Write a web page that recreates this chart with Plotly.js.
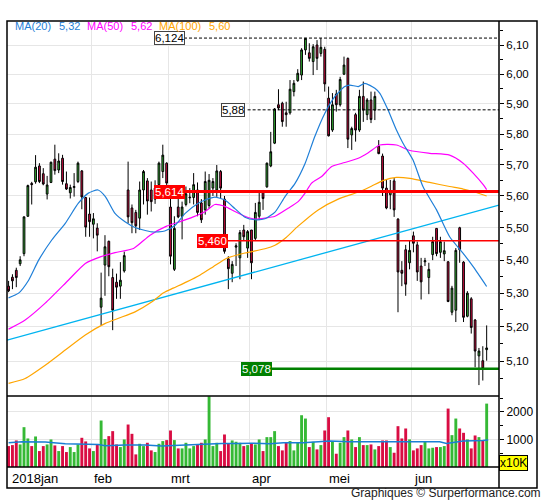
<!DOCTYPE html>
<html>
<head>
<meta charset="utf-8">
<script src="https://cdn.plot.ly/plotly-3.0.1.min.js"></script>
<style>html,body{margin:0;padding:0;background:#fff}#chart{width:545px;height:500px}</style>
</head>
<body>
<div id="chart"></div>
<script>
// ---- Data ----
const openP = [5.321,5.348,5.369,5.389,5.420,5.536,5.640,5.645,5.696,5.671,5.606,5.643,5.718,5.683,5.721,5.639,5.610,5.627,5.646,5.680,
5.595,5.543,5.511,5.499,5.258,5.385,5.458,5.347,5.333,5.321,5.367,5.619,5.562,5.548,5.530,5.619,5.648,5.619,5.590,5.636,
5.678,5.705,5.565,5.372,5.565,5.536,5.573,5.594,5.595,5.619,5.578,5.556,5.570,5.625,5.619,5.678,5.590,5.404,5.360,5.440,
5.407,5.493,5.437,5.493,5.467,5.536,5.616,5.629,5.696,5.770,5.897,5.902,5.870,5.870,5.941,5.978,5.997,6.083,6.073,6.043,
6.100,6.071,6.085,5.919,5.813,5.933,5.897,6.000,6.054,5.797,5.864,5.813,5.925,5.864,5.913,5.879,5.760,5.728,5.625,5.604,
5.648,5.527,5.369,5.432,5.392,5.475,5.447,5.382,5.395,5.347,5.417,5.498,5.424,5.419,5.395,5.243,5.249,5.500,5.394,5.231,
5.283,5.220,5.115,5.101,5.133];
const highP = [5.337,5.357,5.377,5.412,5.536,5.636,5.645,5.731,5.705,5.689,5.664,5.710,5.765,5.737,5.732,5.678,5.636,5.673,5.710,5.683,
5.597,5.595,5.546,5.514,5.362,5.477,5.460,5.374,5.359,5.394,5.426,5.710,5.573,5.556,5.646,5.683,5.657,5.646,5.650,5.710,
5.765,5.708,5.604,5.536,5.610,5.582,5.630,5.625,5.673,5.643,5.590,5.678,5.670,5.657,5.699,5.683,5.600,5.412,5.397,5.452,
5.493,5.509,5.493,5.493,5.578,5.610,5.619,5.707,5.807,5.886,5.949,5.907,5.907,5.980,5.980,6.017,6.089,6.124,6.106,6.103,
6.117,6.124,6.094,5.958,5.936,5.947,5.991,6.060,6.057,5.824,5.870,5.947,5.975,5.919,5.941,5.941,5.780,5.736,5.651,5.651,
5.657,5.530,5.397,5.447,5.462,5.488,5.457,5.407,5.407,5.392,5.472,5.498,5.472,5.457,5.397,5.322,5.437,5.503,5.397,5.306,
5.288,5.223,5.138,5.143,5.204];
const lowP = [5.303,5.312,5.318,5.382,5.412,5.534,5.573,5.639,5.641,5.634,5.589,5.641,5.668,5.673,5.636,5.619,5.592,5.598,5.641,5.558,
5.472,5.472,5.467,5.427,5.204,5.292,5.351,5.190,5.283,5.283,5.362,5.514,5.483,5.483,5.493,5.573,5.541,5.551,5.575,5.630,
5.657,5.630,5.387,5.367,5.530,5.464,5.567,5.577,5.573,5.536,5.515,5.541,5.560,5.600,5.597,5.592,5.420,5.312,5.333,5.382,
5.342,5.462,5.407,5.342,5.462,5.524,5.556,5.626,5.692,5.767,5.879,5.824,5.824,5.864,5.925,5.974,5.980,6.066,6.043,5.997,
6.014,6.060,5.941,5.792,5.807,5.874,5.891,5.997,5.754,5.748,5.775,5.807,5.840,5.846,5.836,5.846,5.734,5.600,5.558,5.558,
5.534,5.243,5.321,5.292,5.372,5.424,5.337,5.281,5.382,5.297,5.400,5.412,5.407,5.397,5.273,5.234,5.214,5.392,5.214,5.228,
5.180,5.082,5.031,5.044,5.101];
const closeP = [5.307,5.337,5.347,5.401,5.534,5.633,5.636,5.692,5.646,5.638,5.635,5.708,5.681,5.712,5.646,5.622,5.627,5.630,5.705,5.597,
5.502,5.519,5.528,5.477,5.285,5.441,5.380,5.249,5.318,5.339,5.414,5.534,5.516,5.506,5.619,5.678,5.584,5.582,5.625,5.705,
5.731,5.641,5.412,5.498,5.534,5.565,5.607,5.596,5.636,5.548,5.525,5.646,5.650,5.646,5.680,5.625,5.427,5.374,5.387,5.444,
5.485,5.472,5.488,5.392,5.548,5.580,5.592,5.705,5.742,5.883,5.886,5.841,5.864,5.949,5.969,6.003,6.083,6.123,6.054,6.094,
6.054,6.092,5.967,5.794,5.897,5.897,5.982,6.031,5.783,5.818,5.813,5.925,5.879,5.913,5.848,5.925,5.736,5.625,5.562,5.614,
5.556,5.364,5.360,5.327,5.430,5.452,5.364,5.334,5.398,5.372,5.457,5.420,5.457,5.429,5.275,5.315,5.430,5.432,5.228,5.300,
5.198,5.129,5.129,5.078,5.138];
// volume in units of 10K
const volume = [758,794,963,818,1444,1035,758,1107,578,758,818,999,782,578,758,542,722,542,818,1059,
927,674,578,818,1685,1011,1119,1300,818,722,999,1540,1203,457,842,758,878,602,542,842,
939,975,1324,975,674,674,878,674,758,818,878,999,2563,758,878,578,1179,842,963,915,
878,758,794,860,818,999,578,1083,1083,1300,758,602,878,939,602,878,1877,1757,722,915,
638,794,1324,1805,915,481,878,1083,1324,999,722,1083,794,794,818,638,758,963,963,722,
517,1480,1035,1396,999,602,674,794,939,674,698,722,722,758,2118,1155,1757,1396,1239,999,
674,1143,1083,963,2298];

// moving averages: [trading-day index, value]
const ma20Pts = [[0,5.286],[2.6,5.300],[5.2,5.339],[7.8,5.400],[11.2,5.462],[14.7,5.514],[18.1,5.577],[20.7,5.609],[23.2,5.619],[25.1,5.598],
[27.6,5.545],[30.2,5.519],[32.8,5.501],[37.2,5.487],[40.5,5.490],[43.2,5.508],[45.8,5.545],[49.2,5.577],[51,5.587],[53.5,5.596],[56.1,5.587],
[58.7,5.560],[61.3,5.533],[63.9,5.525],[66.5,5.528],[69.1,5.549],[71.7,5.598],[74.3,5.640],[76.9,5.704],[79.4,5.791],[82,5.868],
[84.6,5.924],[87.2,5.958],[88.5,5.963],[90.7,5.958],[92.4,5.969],[95,5.952],[96.3,5.935],[98.4,5.880],[100.6,5.813],[102.3,5.770],
[104.9,5.715],[107.5,5.629],[111,5.556],[114.4,5.472],[117.9,5.421],[120.5,5.380],[124,5.32]];
const ma50Pts = [[0,5.193],[4.3,5.220],[9.5,5.270],[15.5,5.339],[19.9,5.390],[23.8,5.410],[27.6,5.423],[32.4,5.436],[36.7,5.477],[41,5.505],
[44.5,5.519],[47.9,5.534],[51,5.551],[53.5,5.573],[56.1,5.567],[58.7,5.551],[61.3,5.536],[63.9,5.527],[66.5,5.530],[69.1,5.536],
[72.5,5.561],[75.1,5.582],[76.9,5.609],[78.6,5.641],[81.2,5.662],[83.8,5.694],[87.2,5.707],[90.7,5.721],[93.3,5.739],[96.3,5.764],
[100.6,5.764],[104.1,5.746],[109.2,5.737],[114.4,5.731],[117.9,5.705],[120.5,5.673],[123.1,5.636],[124,5.62]];
const ma100Pts = [[0,5.036],[4.3,5.050],[9.5,5.088],[14.7,5.132],[19.9,5.176],[25.1,5.210],[28.5,5.225],[32.8,5.244],[37.2,5.274],[40.2,5.301],
[42.7,5.315],[46.2,5.334],[49.7,5.355],[53.1,5.380],[56.6,5.406],[61.3,5.422],[66.5,5.435],[69.1,5.446],[72,5.470],[75.1,5.505],
[80.3,5.556],[85.5,5.590],[91.1,5.614],[94.1,5.631],[97.1,5.649],[100.6,5.659],[104.1,5.656],[109.2,5.643],[114.4,5.630],[117.9,5.622],
[121.3,5.611],[124,5.60]];
const volMaPts = [[0,878],[3.5,915],[9.5,903],[14.7,842],[23.3,818],[25.1,770],[30.2,794],[35.4,794],[39.7,765],[44,794],[47.5,794],
[50.9,818],[55.3,854],[59.6,854],[63,865],[67.8,842],[71.3,878],[76.4,878],[80,900],[83.3,939],[88.5,915],[97.2,915],[105.8,915],
[111.8,915],[113.6,850],[117.9,939],[123,963],[124.4,975]];
const trendPts = [[-0.41,5.161],[127.2,5.571]];

// price levels
const levelValues = [6.124, 5.88, 5.614, 5.460, 5.078];
const levelLabels = ['6,124', '5,88', '5,614', '5,460', '5,078'];
const levelLabelIdx = [41.7, 58.2, 41.8, 52.8, 64.4];

// axis ticks
const priceTicks = [5.10,5.20,5.30,5.40,5.50,5.60,5.70,5.80,5.90,6.00,6.10];
const priceMinorTicks = [5.05,5.15,5.25,5.35,5.45,5.55,5.65,5.75,5.85,5.95,6.05,6.15];
const volTicks = [1000, 2000];
const volMinorTicks = [500, 1500, 2500];
const monthLabels = ['2018jan','feb','mrt','apr','mei','jun'];
const monthFirstIdx = [0, 22, 42, 63, 83, 105];

// ---- styles ----
const GREEN = '#35b935', RED = '#d90d43';
const FONT = 'Liberation Sans, Arial, sans-serif';
const XMIN = -0.41, XMAX = 127.2;
const fmt = v => v.toFixed(2).replace('.', ',');
const idx = openP.map((_, i) => i);
const volColors = idx.map(i => closeP[i] >= openP[i] ? GREEN : RED);
const gridX = monthFirstIdx.slice(1).map(v => v - 0.6);

const traces = [
  {type:'candlestick', x: idx, open: openP, high: highP, low: lowP, close: closeP,
   xaxis:'x', yaxis:'y', whiskerwidth: 0,
   increasing:{line:{color:'#000', width:1}, fillcolor: GREEN},
   decreasing:{line:{color:'#000', width:1}, fillcolor: RED},
   hoverinfo:'skip', showlegend:false},
  {type:'scatter', mode:'lines', x: trendPts.map(p=>p[0]), y: trendPts.map(p=>p[1]),
   line:{color:'#00b4f0', width:1.3}, xaxis:'x', yaxis:'y', hoverinfo:'skip', showlegend:false},
  {type:'scatter', mode:'lines', x: ma100Pts.map(p=>p[0]), y: ma100Pts.map(p=>p[1]),
   line:{color:'#ffa500', width:1.2, shape:'spline', smoothing:0.6}, xaxis:'x', yaxis:'y', hoverinfo:'skip', showlegend:false},
  {type:'scatter', mode:'lines', x: ma50Pts.map(p=>p[0]), y: ma50Pts.map(p=>p[1]),
   line:{color:'#ff00ff', width:1.2, shape:'spline', smoothing:0.6}, xaxis:'x', yaxis:'y', hoverinfo:'skip', showlegend:false},
  {type:'scatter', mode:'lines', x: ma20Pts.map(p=>p[0]), y: ma20Pts.map(p=>p[1]),
   line:{color:'#1f7fd8', width:1.2, shape:'spline', smoothing:0.6}, xaxis:'x', yaxis:'y', hoverinfo:'skip', showlegend:false},
  {type:'bar', x: idx, y: volume, width: 0.75, marker:{color: volColors, line:{width:0}},
   xaxis:'x2', yaxis:'y2', hoverinfo:'skip', showlegend:false},
  {type:'scatter', mode:'lines', x: volMaPts.map(p=>p[0]), y: volMaPts.map(p=>p[1]),
   line:{color:'#1a7fd4', width:1.5}, xaxis:'x2', yaxis:'y2', hoverinfo:'skip', showlegend:false}
];

// paper-coordinate helpers for the fixed frame (plot area: x 7..499, y 21..467 px)
const PW = 492, PH = 446, PL = 7, PB = 467;
const px = v => (v - PL) / PW;
const py = v => (PB - v) / PH;
const VOLTOP = py(396);

const shapes = [];
const annotations = [];

// level lines + labels
const levelStyle = [
  {color:'#000', width:1, dash:'3px,2px', bg:'#fff', border:'#444', font:'#000'},
  {color:'#000', width:1, dash:'3px,2px', bg:'#fff', border:'#444', font:'#000'},
  {color:'#ff0000', width:3, dash:'solid', bg:'#ff0000', border:'#ff0000', font:'#fff'},
  {color:'#ff0000', width:1.5, dash:'solid', bg:'#ff0000', border:'#ff0000', font:'#fff'},
  {color:'#008000', width:2.5, dash:'solid', bg:'#008000', border:'#008000', font:'#fff'}
];
levelValues.forEach((v, k) => {
  const s = levelStyle[k];
  shapes.push({type:'line', xref:'x', yref:'y', x0: levelLabelIdx[k] + 3.8, x1: XMAX, y0: v, y1: v,
    line:{color:s.color, width:s.width, dash:s.dash}, layer:'above'});
  annotations.push({xref:'x', yref:'y', x: levelLabelIdx[k], y: Math.log10(v), text: levelLabels[k],
    showarrow:false, font:{family:FONT, size:11.5, color:s.font}, bgcolor:s.bg, bordercolor:s.border,
    borderwidth:1, borderpad:0, xanchor:'center', yanchor:'middle'});
});

// frame and panel separators
shapes.push({type:'rect', xref:'paper', yref:'paper', x0:0, x1:px(537), y0:py(488), y1:1, line:{color:'#000', width:1.5}, layer:'above'});
shapes.push({type:'line', xref:'paper', yref:'paper', x0:1, x1:1, y0:py(488), y1:1, line:{color:'#000', width:1.5}, layer:'above'});
shapes.push({type:'line', xref:'paper', yref:'paper', x0:0, x1:1, y0:VOLTOP, y1:VOLTOP, line:{color:'#000', width:1.5}, layer:'above'});
shapes.push({type:'line', xref:'paper', yref:'paper', x0:0, x1:1, y0:0, y1:0, line:{color:'#000', width:1.5}, layer:'above'});

// legend texts
const legendItems = [
  ['MA(20)', '#1f7fd8', 13], [fmt(ma20Pts[ma20Pts.length-1][1]), '#1f7fd8', 57],
  ['MA(50)', '#ff00ff', 85], [fmt(ma50Pts[ma50Pts.length-1][1]), '#ff00ff', 129],
  ['MA(100)', '#ffa500', 157], [fmt(ma100Pts[ma100Pts.length-1][1]), '#ffa500', 207]
];
legendItems.forEach(([t, c, x]) => annotations.push({xref:'paper', yref:'paper', x: px(x), y: py(26.5),
  text: t, showarrow:false, xanchor:'left', yanchor:'middle', font:{family:FONT, size:11, color:c}}));

// month labels
monthLabels.forEach((m, k) => annotations.push({xref:'x', yref:'paper',
  x: Math.max(monthFirstIdx[k] - 0.6, XMIN), y: py(478), text: m, showarrow:false,
  xanchor:'left', yanchor:'middle', xshift: k === 0 ? 3 : 1, font:{family:FONT, size:13, color:'#000'}}));

// x10K box
annotations.push({xref:'paper', yref:'paper', x: px(513), y: py(463), text:'x10K', showarrow:false,
  xanchor:'center', yanchor:'middle', bgcolor:'#ffff00', bordercolor:'#000', borderwidth:1, borderpad:0,
  font:{family:FONT, size:12, color:'#000'}});
// attribution
annotations.push({xref:'paper', yref:'paper', x: px(543), y: py(493), text:'Graphiques © Surperformance.com',
  showarrow:false, xanchor:'right', yanchor:'middle', font:{family:FONT, size:12, color:'#222'}});

const xCommon = {range:[XMIN, XMAX], tickmode:'array', tickvals: gridX, showticklabels:false, ticks:'',
  showgrid:true, gridcolor:'#e6e6e6', gridwidth:1, zeroline:false, showline:false, fixedrange:true};

const layout = {
  width:545, height:500,
  margin:{l:PL, r:545-PL-PW, t:21, b:500-PB, pad:0},
  paper_bgcolor:'#fff', plot_bgcolor:'#fff',
  font:{family:FONT, size:11, color:'#000'},
  showlegend:false, hovermode:false, boxgap:0.35,
  xaxis: Object.assign({anchor:'y', rangeslider:{visible:false}}, xCommon),
  xaxis2: Object.assign({anchor:'y2', matches:'x'}, xCommon),
  yaxis: {type:'log', domain:[VOLTOP, 1], range:[Math.log10(5.0), Math.log10(6.1835)], side:'right', anchor:'x',
    tickmode:'array', tickvals: priceTicks, ticktext: priceTicks.map(fmt), ticks:'outside', ticklen:4,
    tickcolor:'#000', tickwidth:1, tickfont:{family:FONT, size:11.5, color:'#000'},
    minor:{tickmode:'array', tickvals: priceMinorTicks, ticks:'outside', ticklen:3, tickcolor:'#000', showgrid:false},
    showgrid:true, gridcolor:'#e6e6e6', zeroline:false, showline:false, fixedrange:true},
  yaxis2: {domain:[0, VOLTOP], range:[0, 2574], side:'right', anchor:'x2',
    tickmode:'array', tickvals: volTicks, ticktext: volTicks.map(String), ticks:'outside', ticklen:4,
    tickcolor:'#000', tickwidth:1, tickfont:{family:FONT, size:12, color:'#000'},
    minor:{tickmode:'array', tickvals: volMinorTicks, ticks:'outside', ticklen:3, tickcolor:'#000', showgrid:false},
    showgrid:true, gridcolor:'#e6e6e6', zeroline:false, showline:false, fixedrange:true},
  shapes, annotations
};

Plotly.newPlot('chart', traces, layout, {staticPlot:true, displayModeBar:false});
</script>
</body>
</html>
